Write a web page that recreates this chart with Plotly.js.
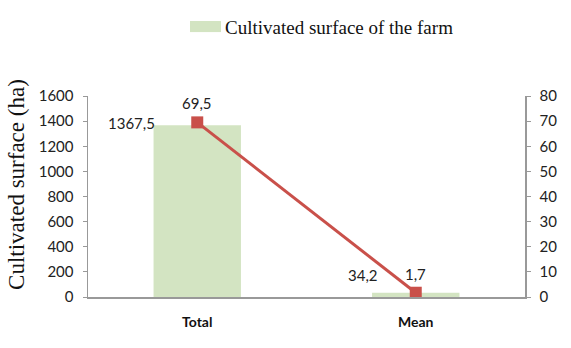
<!DOCTYPE html>
<html>
<head>
<meta charset="utf-8">
<script src="https://cdn.plot.ly/plotly-3.0.1.min.js"></script>
<style>html,body{margin:0;padding:0;background:#fff}#chart{width:571px;height:348px}</style>
</head>
<body>
<div id="chart"></div>
<script>
const categories = ["Total", "Mean"];
const surfaceValues = [1367.5, 34.2];
const surfaceLabels = ["1367,5", "34,2"];
const secondValues = [69.5, 1.7];
const secondLabels = ["69,5", "1,7"];
const leftTicks = [0, 200, 400, 600, 800, 1000, 1200, 1400, 1600];
const rightTicks = [0, 10, 20, 30, 40, 50, 60, 70, 80];
const legendText = "Cultivated surface of the farm";
const yTitleText = "Cultivated surface (ha)";

// style-only offsets for the bar value labels (pixels)
const barLabelShiftX = [-40, -36];
const barLabelShiftY = [2, 18];

const barColor = "#D3E4C2";
const lineColor = "#C9504A";
const tickFont = {family: "Lato, 'Open Sans', sans-serif", size: 15, color: "#222"};
const serif = "'Liberation Serif', 'Times New Roman', serif";

const traces = [
  {
    type: "bar", name: legendText, showlegend: false,
    x: categories, y: surfaceValues, width: 0.4,
    marker: {color: barColor}, hoverinfo: "none"
  },
  {
    type: "scatter", mode: "lines+markers", showlegend: false,
    x: categories, y: secondValues, yaxis: "y2",
    line: {color: lineColor, width: 3},
    marker: {symbol: "square", size: 12, color: lineColor}, hoverinfo: "none"
  }
];

const annotations = [];
categories.forEach((c, i) => {
  annotations.push({
    x: c, y: surfaceValues[i], xref: "x", yref: "y",
    text: surfaceLabels[i], showarrow: false,
    xanchor: "right", yanchor: "middle",
    xshift: barLabelShiftX[i], yshift: barLabelShiftY[i],
    font: tickFont
  });
  annotations.push({
    x: c, y: secondValues[i], xref: "x", yref: "y2",
    text: secondLabels[i], showarrow: false,
    xanchor: "center", yanchor: "bottom", yshift: 8,
    font: tickFont
  });
});
// legend text
annotations.push({
  x: 0.309, y: 1.343, xref: "paper", yref: "paper",
  text: legendText, showarrow: false, xanchor: "left", yanchor: "middle",
  font: {family: serif, size: 19, color: "#111"}
});
// y-axis title
annotations.push({
  x: -0.165, y: 0.562, xref: "paper", yref: "paper",
  text: yTitleText, showarrow: false, textangle: -90,
  xanchor: "center", yanchor: "middle",
  font: {family: serif, size: 23, color: "#111"}
});

const layout = {
  width: 571, height: 348,
  margin: {l: 88, r: 46, t: 96, b: 51},
  paper_bgcolor: "#fff", plot_bgcolor: "#fff",
  showlegend: false,
  shapes: [{
    type: "rect", xref: "paper", yref: "paper",
    x0: 0.2334, x1: 0.3043, y0: 1.318, y1: 1.373,
    fillcolor: barColor, line: {width: 0}
  }],
  xaxis: {
    showline: true, linecolor: "#999", linewidth: 1.5, ticks: "",
    ticklabelstandoff: 12,
    tickfont: {family: "Lato, 'Open Sans', sans-serif", size: 14, color: "#111", weight: "bold"},
    fixedrange: true
  },
  yaxis: {
    range: [0, 1600], tickvals: leftTicks, ticktext: leftTicks.map(String),
    showline: true, linecolor: "#999", linewidth: 1.5, ticks: "outside", ticklen: 4,
    tickcolor: "#999", showgrid: false, zeroline: false, tickfont: tickFont,
    ticklabelstandoff: 6
  },
  yaxis2: {
    range: [0, 80], overlaying: "y", side: "right",
    tickvals: rightTicks, ticktext: rightTicks.map(String),
    showline: true, linecolor: "#999", linewidth: 1.5, ticks: "outside", ticklen: 4,
    tickcolor: "#999", showgrid: false, zeroline: false, tickfont: tickFont,
    ticklabelstandoff: 6
  },
  annotations: annotations
};

Plotly.newPlot("chart", traces, layout, {staticPlot: true, displayModeBar: false});
</script>
</body>
</html>
